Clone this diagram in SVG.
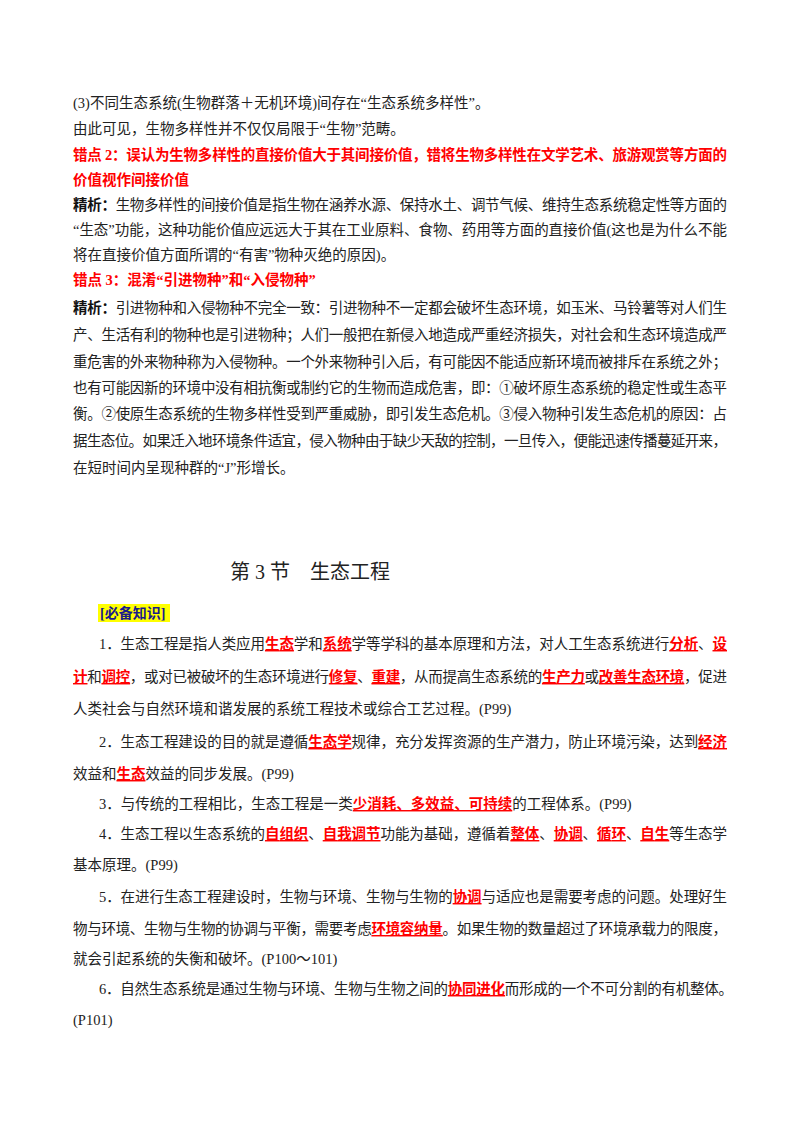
<svg xmlns="http://www.w3.org/2000/svg" width="800" height="1132" viewBox="0 0 800 1132">
<style>
text{font-family:"Liberation Serif","Noto Sans CJK SC",serif;font-size:14.5px;fill:#222}
.r{fill:#f00;font-weight:bold}
.u{fill:#f00;font-weight:bold;text-decoration:underline}
.b{font-weight:bold;fill:#111}
</style>
<rect width="800" height="1132" fill="#fff"/>
<g id="body1">
<text x="73" y="108">(3)不同生态系统(生物群落＋无机环境)间存在“生态系统多样性”。</text>
<text x="73" y="134">由此可见，生物多样性并不仅仅局限于“生物”范畴。</text>
<text x="73" y="160" class="r" textLength="654" lengthAdjust="spacing">错点 2：误认为生物多样性的直接价值大于其间接价值，错将生物多样性在文学艺术、旅游观赏等方面的</text>
<text x="73" y="185" class="r">价值视作间接价值</text>
<text x="73" y="210" textLength="654" lengthAdjust="spacing"><tspan class="b">精析：</tspan>生物多样性的间接价值是指生物在涵养水源、保持水土、调节气候、维持生态系统稳定性等方面的</text>
<text x="73" y="235" textLength="654" lengthAdjust="spacing">“生态”功能，这种功能价值应远远大于其在工业原料、食物、药用等方面的直接价值(这也是为什么不能</text>
<text x="73" y="260">将在直接价值方面所谓的“有害”物种灭绝的原因)。</text>
<text x="73" y="285" class="r">错点 3：混淆“引进物种”和“入侵物种”</text>
<text x="73" y="313" textLength="654" lengthAdjust="spacing"><tspan class="b">精析：</tspan>引进物种和入侵物种不完全一致：引进物种不一定都会破坏生态环境，如玉米、马铃薯等对人们生</text>
<text x="73" y="340" textLength="654" lengthAdjust="spacing">产、生活有利的物种也是引进物种；人们一般把在新侵入地造成严重经济损失，对社会和生态环境造成严</text>
<text x="73" y="367" textLength="654" lengthAdjust="spacing">重危害的外来物种称为入侵物种。一个外来物种引入后，有可能因不能适应新环境而被排斥在系统之外；</text>
<text x="73" y="393" textLength="654" lengthAdjust="spacing">也有可能因新的环境中没有相抗衡或制约它的生物而造成危害，即：①破坏原生态系统的稳定性或生态平</text>
<text x="73" y="419" textLength="654" lengthAdjust="spacing">衡。②使原生态系统的生物多样性受到严重威胁，即引发生态危机。③侵入物种引发生态危机的原因：占</text>
<text x="73" y="446" textLength="654" lengthAdjust="spacing">据生态位。如果迁入地环境条件适宜，侵入物种由于缺少天敌的控制，一旦传入，便能迅速传播蔓延开来，</text>
<text x="73" y="473">在短时间内呈现种群的“J”形增长。</text>
</g>
<g id="title">
<text x="230" y="579" style="font-size:20px">第 3 节　生态工程</text>
</g>
<g id="tag">
<rect x="98" y="604" width="72" height="18" fill="#ffff00"/>
<text x="100" y="618" style="fill:#1a1a8c;font-weight:bold;font-size:14px">[必备知识]</text>
</g>
<g id="body2">
<text x="99" y="649" textLength="628" lengthAdjust="spacing">1．生态工程是指人类应用<tspan class="u">生态</tspan>学和<tspan class="u">系统</tspan>学等学科的基本原理和方法，对人工生态系统进行<tspan class="u">分析</tspan>、<tspan class="u">设</tspan></text>
<text x="73" y="682" textLength="654" lengthAdjust="spacing"><tspan class="u">计</tspan>和<tspan class="u">调控</tspan>，或对已被破坏的生态环境进行<tspan class="u">修复</tspan>、<tspan class="u">重建</tspan>，从而提高生态系统的<tspan class="u">生产力</tspan>或<tspan class="u">改善生态环境</tspan>，促进</text>
<text x="73" y="714">人类社会与自然环境和谐发展的系统工程技术或综合工艺过程。(P99)</text>
<text x="99" y="747" textLength="628" lengthAdjust="spacing">2．生态工程建设的目的就是遵循<tspan class="u">生态学</tspan>规律，充分发挥资源的生产潜力，防止环境污染，达到<tspan class="u">经济</tspan></text>
<text x="73" y="779">效益和<tspan class="u">生态</tspan>效益的同步发展。(P99)</text>
<text x="99" y="809">3．与传统的工程相比，生态工程是一类<tspan class="u">少消耗、多效益、可持续</tspan>的工程体系。(P99)</text>
<text x="99" y="839" textLength="628" lengthAdjust="spacing">4．生态工程以生态系统的<tspan class="u">自组织</tspan>、<tspan class="u">自我调节</tspan>功能为基础，遵循着<tspan class="u">整体</tspan>、<tspan class="u">协调</tspan>、<tspan class="u">循环</tspan>、<tspan class="u">自生</tspan>等生态学</text>
<text x="73" y="870">基本原理。(P99)</text>
<text x="99" y="902" textLength="628" lengthAdjust="spacing">5．在进行生态工程建设时，生物与环境、生物与生物的<tspan class="u">协调</tspan>与适应也是需要考虑的问题。处理好生</text>
<text x="73" y="934" textLength="654" lengthAdjust="spacing">物与环境、生物与生物的协调与平衡，需要考虑<tspan class="u">环境容纳量</tspan>。如果生物的数量超过了环境承载力的限度，</text>
<text x="73" y="964">就会引起系统的失衡和破坏。(P100～101)</text>
<text x="99" y="994" textLength="634" lengthAdjust="spacing">6．自然生态系统是通过生物与环境、生物与生物之间的<tspan class="u">协同进化</tspan>而形成的一个不可分割的有机整体。</text>
<text x="73" y="1025">(P101)</text>
</g>
</svg>
